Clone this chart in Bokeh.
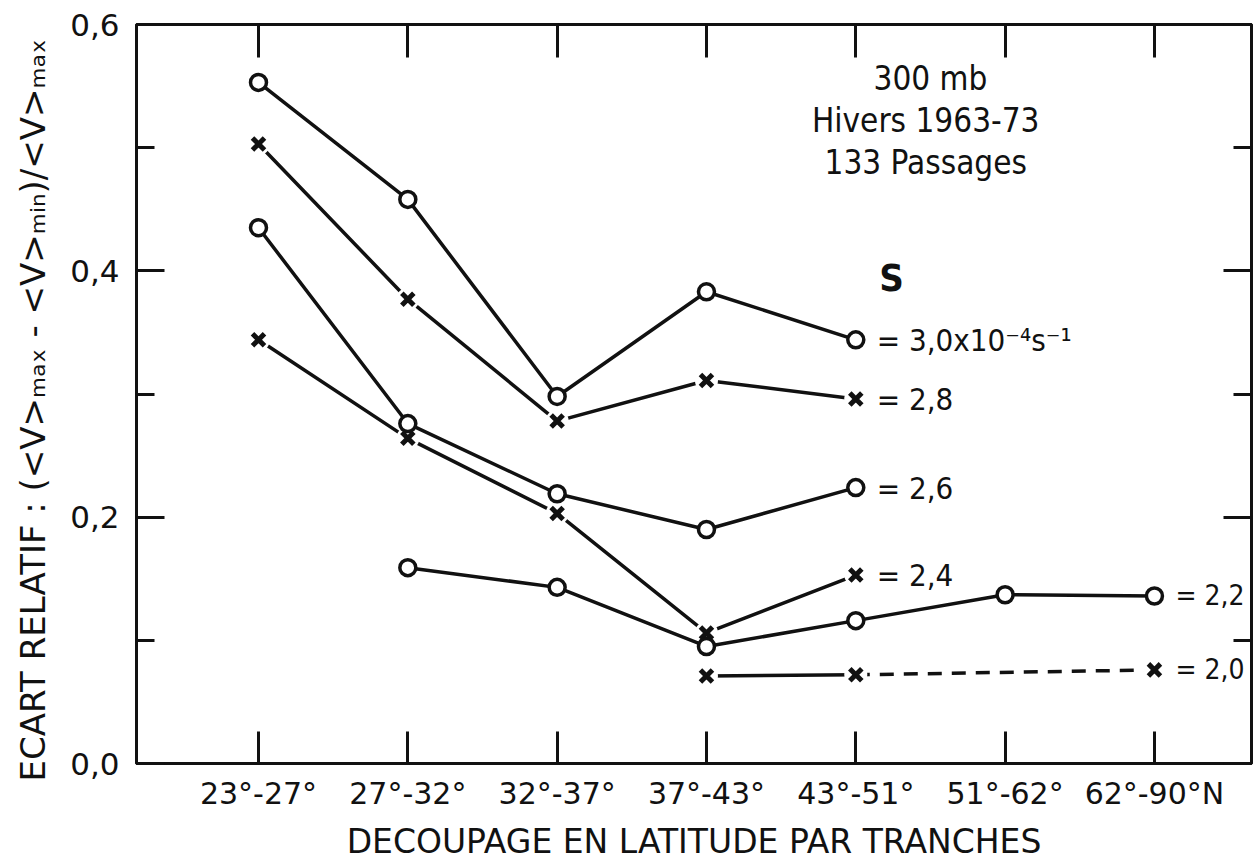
import math
from bokeh.plotting import figure
from bokeh.models import (Range1d, LinearAxis, FixedTicker, CustomJSTickFormatter, Label)
from bokeh.embed import file_html
from bokeh.resources import INLINE

# ---------------- data ----------------
nan = float("nan")
categories = ["23°-27°", "27°-32°", "32°-37°", "37°-43°", "43°-51°", "51°-62°", "62°-90°N"]
s30 = [0.553, 0.458, 0.298, 0.383, 0.344, nan, nan]
s28 = [0.503, 0.377, 0.278, 0.311, 0.296, nan, nan]
s26 = [0.435, 0.276, 0.219, 0.190, 0.224, nan, nan]
s24 = [0.344, 0.264, 0.203, 0.106, 0.153, nan, nan]
s22 = [nan, 0.159, 0.143, 0.095, 0.116, 0.137, 0.136]
s20 = [nan, nan, nan, 0.071, 0.072, nan, 0.076]
series_labels = ["= 3,0x10⁻⁴s⁻¹", "= 2,8", "= 2,6", "= 2,4", "= 2,2", "= 2,0"]
series_markers = ["circle", "x", "circle", "x", "circle", "x"]
y_major = [0.0, 0.2, 0.4, 0.6]
y_minor = [0.1, 0.3, 0.5]
y_title = "ECART RELATIF :  (<V>ₘₐₓ  -  <V>ₘᵢₙ)/<V>ₘₐₓ"
x_title = "DECOUPAGE EN LATITUDE PAR TRANCHES"
note_lines = ["300 mb", "Hivers  1963-73", "133  Passages"]
legend_title = "S"

FONT = "DejaVu Sans"
NARROW = "DejaVu Sans Condensed, DejaVu Sans"
INK = "#111111"

xs = list(range(len(categories)))

p = figure(frame_width=1115, frame_height=739,
           x_range=Range1d(-0.817, 6.65), y_range=Range1d(0, 0.6),
           x_axis_location=None, y_axis_location=None,
           output_backend="svg", toolbar_location=None,
           min_border_left=136, min_border_right=3,
           min_border_top=24, min_border_bottom=96)
p.grid.visible = False
p.outline_line_color = INK
p.outline_line_width = 3
p.background_fill_color = "white"
p.border_fill_color = "white"

cat_ticker = FixedTicker(ticks=xs)
y_ticker = FixedTicker(ticks=y_major, minor_ticks=y_minor)
y_fmt = CustomJSTickFormatter(code="return tick.toFixed(1).replace('.', ',');")

def style_axis(ax, tick_in, minor_in=0):
    ax.major_tick_in = tick_in
    ax.major_tick_out = 0
    ax.minor_tick_in = minor_in
    ax.minor_tick_out = 0
    ax.major_tick_line_width = 3
    ax.minor_tick_line_width = 3
    ax.major_tick_line_color = INK
    ax.minor_tick_line_color = INK
    ax.axis_line_width = 3
    ax.axis_line_color = INK
    ax.major_label_text_font = FONT
    ax.major_label_text_color = INK
    ax.axis_label_text_font = FONT
    ax.axis_label_text_font_style = "normal"
    ax.axis_label_text_color = INK

bottom = LinearAxis(ticker=cat_ticker,
                    major_label_overrides={i: c for i, c in enumerate(categories)},
                    axis_label=x_title)
style_axis(bottom, 32)
bottom.major_label_text_font_size = "30px"
bottom.major_label_standoff = 12
bottom.axis_label_text_font_size = "33px"
bottom.axis_label_standoff = 8
p.add_layout(bottom, "below")

top = LinearAxis(ticker=cat_ticker)
style_axis(top, 33)
top.major_label_text_font_size = "0px"
top.major_label_standoff = 0
top.major_label_text_alpha = 0
p.add_layout(top, "above")

left = LinearAxis(ticker=y_ticker, formatter=y_fmt, axis_label=y_title)
style_axis(left, 28, 18)
left.major_label_text_font_size = "31px"
left.major_label_standoff = 17
left.axis_label_text_font_size = "34px"
left.axis_label_standoff = 14
p.add_layout(left, "left")

right = LinearAxis(ticker=y_ticker)
style_axis(right, 28, 18)
right.major_label_text_font_size = "0px"
right.major_label_text_alpha = 0
right.major_label_standoff = 0
p.add_layout(right, "right")

all_series = [s30, s28, s26, s24, s22, s20]
LW = 3.5

# lines
for ys in all_series[:-1]:
    p.line(xs, ys, line_color=INK, line_width=LW)
valid20 = [i for i, v in enumerate(s20) if not math.isnan(v)]
p.line([xs[i] for i in valid20[:2]], [s20[i] for i in valid20[:2]],
       line_color=INK, line_width=LW)
p.line([xs[i] for i in valid20[-2:]], [s20[i] for i in valid20[-2:]],
       line_color=INK, line_width=LW, line_dash="14 10")

# white halos round the crosses (gaps where lines meet them)
for ys, mk in zip(all_series, series_markers):
    if mk == "x":
        p.scatter(xs, ys, marker="circle", size=23, fill_color="white", line_color=None)

# markers
for ys, mk in zip(all_series, series_markers):
    if mk == "circle":
        p.scatter(xs, ys, marker="circle", size=16, fill_color="white",
                  line_color=INK, line_width=3.5)
    else:
        p.scatter(xs, ys, marker="x", size=17, line_color=INK, line_width=5)

# series labels at the right end of each curve
for ys, lab in zip(all_series, series_labels):
    last = max(i for i, v in enumerate(ys) if not math.isnan(v))
    size = "28px" if last == xs[-1] else "31px"
    p.add_layout(Label(x=xs[last], y=ys[last], text=lab, x_offset=21,
                       text_baseline="middle", text_align="left",
                       text_font=NARROW, text_font_size=size, text_color=INK))

p.add_layout(Label(x=4.24, y=0.394, text=legend_title, text_font=NARROW,
                   text_font_size="38px", text_font_style="bold",
                   text_align="center", text_baseline="middle", text_color=INK))

for k, line in enumerate(note_lines):
    p.add_layout(Label(x=4.5, y=0.556 - k * 0.034, text=line, text_font=NARROW,
                       text_font_size="33px", text_align="center",
                       text_baseline="middle", text_color=INK))

open("out.html", "w").write(file_html(p, INLINE))
